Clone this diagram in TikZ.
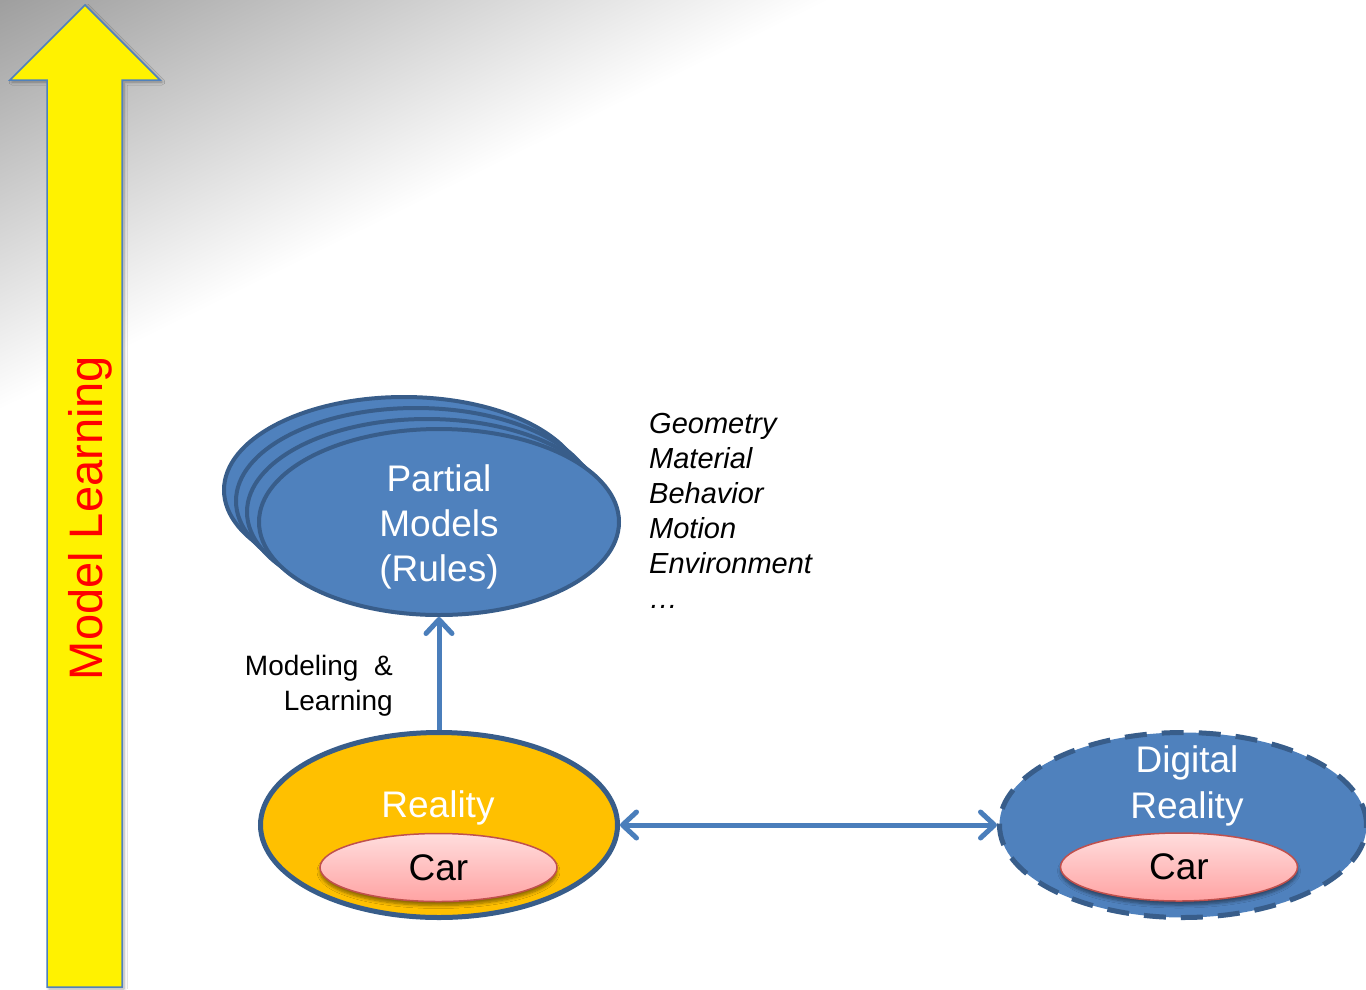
\documentclass[tikz,border=0pt]{standalone}
\usepackage{fontspec}
\setmainfont{Liberation Sans}
\usetikzlibrary{arrows.meta,shapes.geometric,shadows.blur}

\definecolor{accent}{HTML}{4F81BD}
\definecolor{rim}{HTML}{385D8A}
\definecolor{link}{HTML}{4A7EBB}
\definecolor{amber}{HTML}{FFC000}
\definecolor{carrim}{HTML}{C0504D}
\definecolor{cartop}{HTML}{FFDDDD}
\definecolor{carbot}{HTML}{FFA3A3}
\definecolor{bandgray}{RGB}{158,158,158}
\definecolor{arrowred}{HTML}{FF0000}

\newcommand\fsz[2]{\fontsize{#1}{#2}\selectfont}

\begin{document}
\begin{tikzpicture}[x=1pt,y=-1pt,
  blob/.style={ellipse, draw=rim, line width=4pt, fill=accent, inner sep=0pt,
    minimum width=360pt, minimum height=186pt},
  realblob/.style={ellipse, draw=rim, line width=5pt, fill=amber, inner sep=0pt,
    minimum width=357pt, minimum height=185pt},
  digiblob/.style={ellipse, draw=rim, line width=5pt, dash pattern=on 22pt off 15pt,
    fill=accent, inner sep=0pt, minimum width=367pt, minimum height=185pt},
  carblob/.style={ellipse, draw=carrim, line width=1.5pt, top color=cartop,
    bottom color=carbot, inner sep=0pt, minimum width=237pt, minimum height=68pt,
    font=\fsz{37}{45},
    blur shadow={shadow xshift=0pt, shadow yshift=-4pt, shadow opacity=45,
      shadow blur steps=6, shadow blur radius=3pt}},
  bigtext/.style={white, font=\fsz{37}{45}, inner sep=0pt, anchor=base},
  sidetext/.style={black, font=\fsz{28}{35}, inner sep=0pt, anchor=base east},
  listtext/.style={black, font=\fsz{29}{35}\itshape, inner sep=0pt, anchor=base west},
  link/.style={draw=link, line width=5pt,
    arrows={-Straight Barb[length=14pt,width=26pt,round]}},
]
% page area
\useasboundingbox (0,0) rectangle (1366,989);
\fill[white] (0,0) rectangle (1366,989);

% grey corner band, fading towards a diagonal
\begin{scope}
  \clip (0,0) rectangle (1366,989);
  \begin{scope}[transform canvas={rotate around={26.3:(0,410)}}]
    \shade[top color=bandgray, bottom color=white] (-400,40) rectangle (1600,410);
  \end{scope}
\end{scope}

% yellow upward arrow
\filldraw[fill=yellow, draw=accent, line width=1.5pt,
  blur shadow={shadow xshift=2pt, shadow yshift=-2pt, shadow opacity=35,
    shadow blur steps=5, shadow blur radius=3pt}]
  (47,987) -- (47,80) -- (10,80) -- (85,5) -- (160,80) -- (122,80) -- (122,987) -- cycle;
\node[arrowred, font=\fsz{47}{56}, rotate=90, anchor=base, inner sep=0pt]
  (ml) at (102,518) {Model Learning};

% stack of partial models
\node[blob] (pm4) at (404,490) {};
\node[blob] (pm3) at (416,501) {};
\node[blob] (pm2) at (427,512) {};
\node[blob] (pm)  at (439,522) {};
\node[bigtext] (pmt1) at (439,491) {Partial};
\node[bigtext] (pmt2) at (439,536) {Models};
\node[bigtext] (pmt3) at (439,581) {(Rules)};

% aspects of the models
\foreach \w [count=\i from 0] in {Geometry,Material,Behavior,Motion,Environment,…}
  \node[listtext] (asp\i) at (649,433+35*\i) {\w};

% reality
\node[realblob] (reality) at (439,825) {};
\node[bigtext] (realt) at (438,817) {Reality};
\node[carblob] (car1) at (438.5,867.5) {Car};

% digital reality
\node[digiblob] (dr) at (1183,825) {};
\node[bigtext] (drt1) at (1187,772) {Digital};
\node[bigtext] (drt2) at (1187,818) {Reality};
\node[carblob] (car2) at (1179,867) {Car};

% connectors
\draw[link] (reality.north) -- (pm.south);
\draw[link, arrows={Straight Barb[length=14pt,width=26pt,round]-Straight Barb[length=14pt,width=26pt,round]}]
  (reality.east) -- (dr.west);
\node[sidetext] (ml1) at (393,675) {Modeling\ \ \&};
\node[sidetext] (ml2) at (393,710) {Learning};
\end{tikzpicture}
\end{document}
